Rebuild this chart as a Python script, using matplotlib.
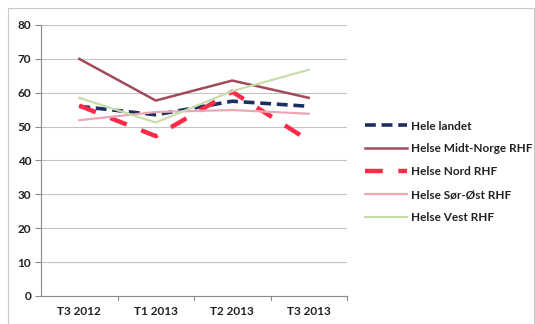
import matplotlib.pyplot as plt
import matplotlib.patches as patches

plt.rcParams['font.family'] = ['Lato', 'DejaVu Sans']

# Tertialdata per helseregion
perioder = ['T3 2012', 'T1 2013', 'T2 2013', 'T3 2013']
hele_landet = [56.0, 53.5, 57.5, 56.0]
midt_norge = [70.0, 57.7, 63.6, 58.5]
nord = [56.2, 47.2, 60.3, 45.9]
sor_ost = [51.9, 54.3, 54.9, 53.8]
vest = [58.5, 51.2, 60.5, 66.8]

fig = plt.figure(figsize=(5.35, 3.24), dpi=100)
ax = fig.add_axes([41 / 535, 1 - 296 / 324, 306 / 535, 271 / 324])

# ramme rundt hele diagrammet
fig.patches.append(patches.Rectangle((8 / 535, 0.0), 526 / 535, 1 - 8 / 324,
                                     transform=fig.transFigure, fill=False,
                                     edgecolor='#c8c8c8', linewidth=0.8))

x = range(len(perioder))
ax.plot(x, hele_landet, color='#1c2f5e', linewidth=2.6, dashes=(3, 1.6), label='Hele landet')
ax.plot(x, midt_norge, color='#a04a5c', linewidth=1.8, label='Helse Midt-Norge RHF')
ax.plot(x, nord, color='#ff2a48', linewidth=3.2, dashes=(4, 3.5), label='Helse Nord RHF')
ax.plot(x, sor_ost, color='#eba7b5', linewidth=1.6, label='Helse Sør-Øst RHF')
ax.plot(x, vest, color='#c9dcaa', linewidth=1.6, label='Helse Vest RHF')

ax.set_xlim(-0.5, 3.5)
ax.set_ylim(0, 80)
ax.set_yticks(range(0, 81, 10))
ax.set_xticks(list(x))
ax.set_xticklabels(perioder)
ax.grid(axis='y', color='#c4c4c4', linewidth=0.8)
ax.set_axisbelow(True)

for side in ['top', 'right']:
    ax.spines[side].set_visible(False)
ax.spines['left'].set_color('#8a8a8a')
ax.spines['bottom'].set_color('#8a8a8a')
ax.tick_params(axis='y', length=4, color='#8a8a8a', labelsize=8.5, pad=3)
ax.tick_params(axis='x', length=0, labelsize=8.5, pad=7)
for lbl in ax.get_xticklabels() + ax.get_yticklabels():
    lbl.set_fontweight('bold')
    lbl.set_color('#222222')

# små skillestreker mellom kategoriene på x-aksen
for b in [0.5, 1.5, 2.5, 3.5]:
    ax.plot([b, b], [0, -1.3], color='#8a8a8a', linewidth=0.8, clip_on=False)

leg = fig.legend(loc='upper left', bbox_to_anchor=(354 / 535, 1 - 110 / 324),
                 frameon=False, fontsize=8.5, handlelength=3.6, labelspacing=1.0,
                 handletextpad=0.3)
for t in leg.get_texts():
    t.set_fontweight('bold')
    t.set_color('#222222')

fig.savefig('out.png', dpi=100)
